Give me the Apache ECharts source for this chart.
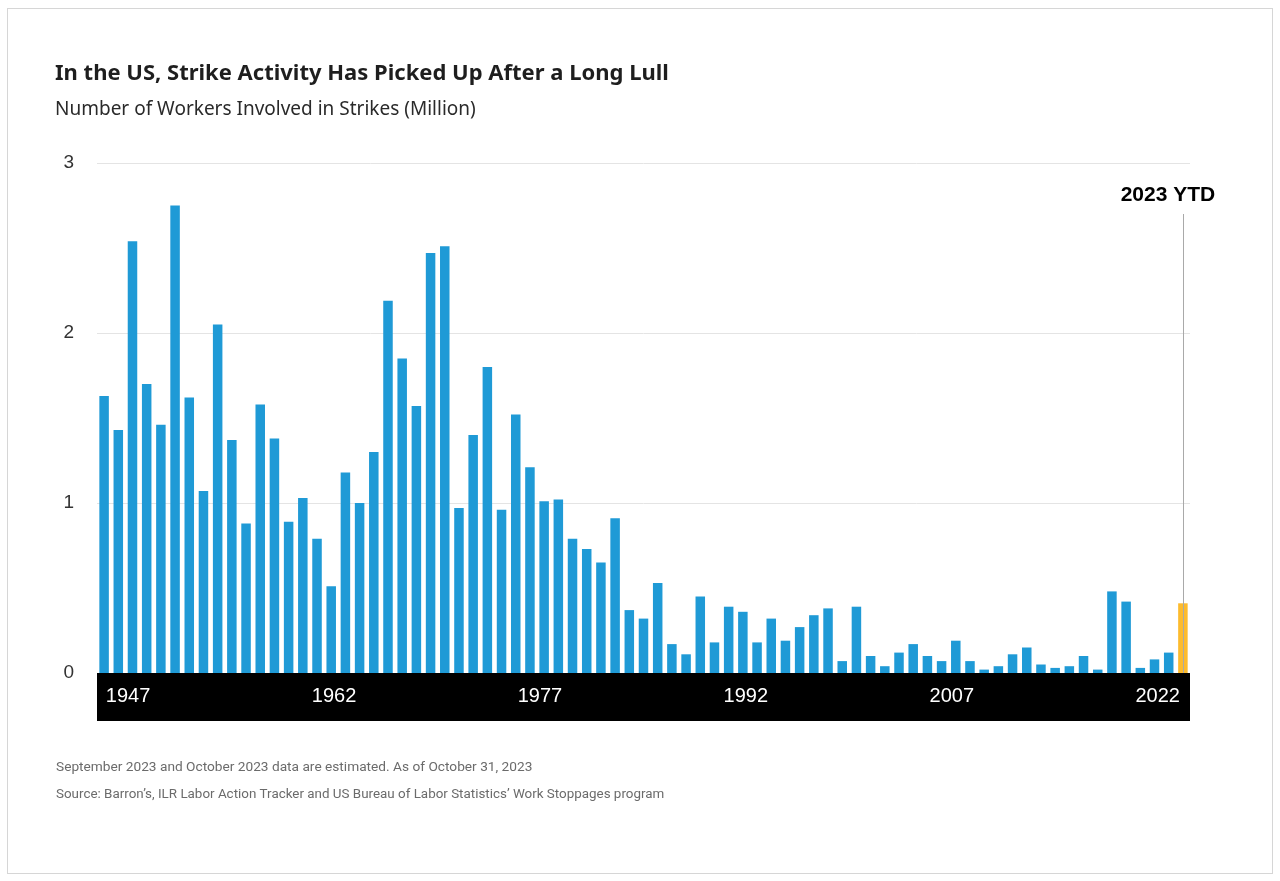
<!DOCTYPE html>
<html>
<head>
<meta charset="utf-8">
<title>Strike Activity</title>
<script src="https://cdn.jsdelivr.net/npm/echarts@6/dist/echarts.min.js"></script>
<style>
    html, body { margin: 0; padding: 0; background: #fff; }
    #chart { width: 1280px; height: 881px; }
    #frame { position: absolute; left: 7px; top: 8px; width: 1264px; height: 864px; border: 1px solid #d6d6d6; pointer-events: none; }
</style>
</head>
<body>
<div id="chart"></div>
<div id="frame"></div>
<script>
// years 1947 .. 2023 (2023 is year to date)
var years = [];
for (var y = 1947; y <= 2023; y++) { years.push(String(y)); }

// workers involved in strikes, million
var workers = [
    1.63, 1.43, 2.54, 1.70, 1.46, 2.75, 1.62, 1.07, 2.05, 1.37,   // 1947-1956
    0.88, 1.58, 1.38, 0.89, 1.03, 0.79, 0.51, 1.18, 1.00, 1.30,   // 1957-1966
    2.19, 1.85, 1.57, 2.47, 2.51, 0.97, 1.40, 1.80, 0.96, 1.52,   // 1967-1976
    1.21, 1.01, 1.02, 0.79, 0.73, 0.65, 0.91, 0.37, 0.32, 0.53,   // 1977-1986
    0.17, 0.11, 0.45, 0.18, 0.39, 0.36, 0.18, 0.32, 0.19, 0.27,   // 1987-1996
    0.34, 0.38, 0.07, 0.39, 0.10, 0.04, 0.12, 0.17, 0.10, 0.07,   // 1997-2006
    0.19, 0.07, 0.02, 0.04, 0.11, 0.15, 0.05, 0.03, 0.04, 0.10,   // 2007-2016
    0.02, 0.48, 0.42, 0.03, 0.08, 0.12, 0.41                      // 2017-2023
];

var yTicks = [0, 1, 2, 3];
var ytdYear = '2023';
var ytdLineTop = 2.7;

var myChart = echarts.init(document.getElementById('chart'));

var barData = [];
for (var i = 0; i < workers.length; i++) {
    if (years[i] === ytdYear) {
        barData.push({ value: workers[i], itemStyle: { color: '#fdbb2d' } });
    } else {
        barData.push(workers[i]);
    }
}

// label k of the 6 shown is nudged so they sit evenly on the black band
var labelRich = {};
for (var k = 0; k < 6; k++) {
    var shift = 24 - k * 7;
    labelRich['s' + k] = {
        color: '#fff',
        fontSize: 20,
        fontFamily: 'Liberation Sans',
        padding: shift >= 0 ? [0, 0, 0, shift * 2] : [0, -shift * 2, 0, 0]
    };
}

var option = {
    animation: false,
    title: [{
        text: 'In the US, Strike Activity Has Picked Up After a Long Lull',
        left: 50, top: 58,
        textStyle: { fontFamily: 'Noto Sans', fontWeight: 'bold', fontSize: 22, color: '#1e1e1e' }
    }, {
        text: 'Number of Workers Involved in Strikes (Million)',
        left: 50, top: 95,
        textStyle: { fontFamily: 'Noto Sans', fontWeight: 'normal', fontSize: 19, color: '#2a2a2a' }
    }, {
        text: 'September 2023 and October 2023 data are estimated. As of October 31, 2023',
        left: 51, top: 756,
        textStyle: { fontFamily: 'Roboto', fontWeight: 'normal', fontSize: 13.7, color: '#6b6b6b' }
    }, {
        text: 'Source: Barron\u2019s, ILR Labor Action Tracker and US Bureau of Labor Statistics\u2019 Work Stoppages program',
        left: 51, top: 783,
        textStyle: { fontFamily: 'Roboto', fontWeight: 'normal', fontSize: 13.4, color: '#6b6b6b' }
    }],
    grid: { left: 97, right: 90, top: 163, bottom: 208 },
    xAxis: {
        type: 'category',
        data: years,
        offset: 24,
        axisTick: { show: false },
        axisLine: { show: true, onZero: false, lineStyle: { color: '#000', width: 48, cap: 'butt' } },
        axisLabel: {
            margin: -11,
            interval: function (index) { return index % 15 === 0; },
            formatter: function (value, index) {
                return '{s' + Math.round(index / 15) + '|' + value + '}';
            },
            rich: labelRich
        },
        splitLine: { show: false }
    },
    yAxis: {
        type: 'value',
        min: yTicks[0],
        max: yTicks[yTicks.length - 1],
        interval: 1,
        axisLine: { show: false },
        axisTick: { show: false },
        axisLabel: { margin: 23, color: '#333', fontSize: 19, fontFamily: 'Liberation Sans' },
        splitLine: { lineStyle: { color: '#e4e4e4', width: 1 } }
    },
    series: [{
        type: 'bar',
        data: barData,
        barCategoryGap: '33%',
        itemStyle: { color: '#1f9ad6' },
        markLine: {
            silent: true,
            symbol: ['none', 'none'],
            lineStyle: { color: '#a9a9a9', width: 1, type: 'solid' },
            label: {
                show: true,
                position: 'start',
                distance: 8,
                offset: [-15, 0],
                formatter: ytdYear + ' YTD',
                color: '#000',
                fontWeight: 'bold',
                fontSize: 21,
                fontFamily: 'Liberation Sans'
            },
            data: [[
                { coord: [ytdYear, ytdLineTop] },
                { coord: [ytdYear, 0] }
            ]]
        }
    }]
};

myChart.setOption(option);
window.addEventListener('resize', function () { myChart.resize(); });
</script>
</body>
</html>
